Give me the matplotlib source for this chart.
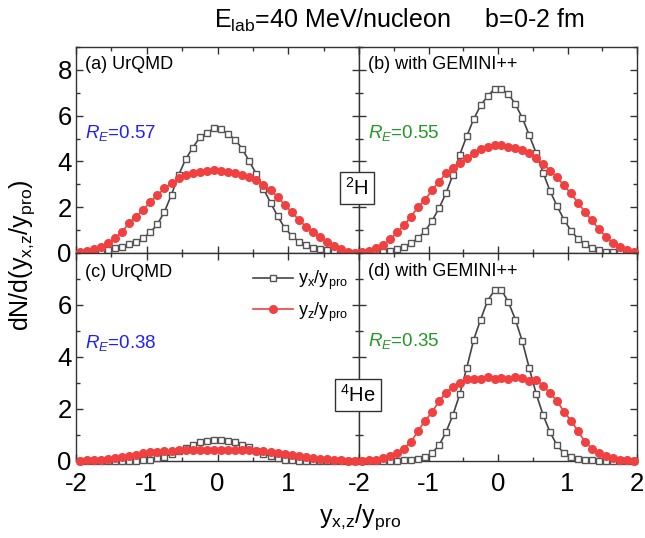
import matplotlib
matplotlib.use('Agg')
import matplotlib.pyplot as plt
import numpy as np
from matplotlib.ticker import MultipleLocator

plt.rcParams['font.family'] = ['Liberation Sans', 'DejaVu Sans']
plt.rcParams['mathtext.fontset'] = 'custom'
plt.rcParams['mathtext.rm'] = 'Liberation Sans'
plt.rcParams['mathtext.it'] = 'Liberation Sans:italic'
plt.rcParams['mathtext.default'] = 'regular'
plt.rcParams['axes.unicode_minus'] = False

# bin centres of y/y_pro
x = np.round(np.linspace(-1.95, 1.95, 40), 2)

# (a) UrQMD, 2H
a_x = [0.0, 0.0, 0.02, 0.06, 0.13, 0.2, 0.28, 0.38, 0.5, 0.65,
       0.9, 1.25, 1.8, 2.55, 3.4, 4.1, 4.6, 5.05, 5.25, 5.45,
       5.4, 5.2, 4.95, 4.55, 4.0, 3.45, 2.8, 2.2, 1.6, 1.1,
       0.75, 0.5, 0.35, 0.22, 0.16, 0.12, 0.07, 0.03, 0.01, 0.0]
a_z = [0.03, 0.09, 0.16, 0.28, 0.42, 0.64, 0.93, 1.3, 1.59, 1.88,
       2.24, 2.53, 2.82, 3.04, 3.26, 3.4, 3.5, 3.55, 3.59, 3.62,
       3.58, 3.52, 3.48, 3.42, 3.32, 3.18, 2.98, 2.75, 2.45, 2.1,
       1.78, 1.45, 1.15, 0.92, 0.7, 0.5, 0.3, 0.16, 0.06, 0.02]
# (b) with GEMINI++, 2H
b_x = [0.0, 0.01, 0.03, 0.06, 0.1, 0.17, 0.28, 0.42, 0.65, 0.95,
       1.4, 1.95, 2.6, 3.4, 4.3, 5.1, 5.85, 6.45, 6.85, 7.18,
       7.16, 6.95, 6.5, 5.9, 5.15, 4.35, 3.5, 2.7, 2.05, 1.45,
       0.98, 0.62, 0.38, 0.22, 0.12, 0.06, 0.03, 0.01, 0.0, 0.0]
b_z = [0.03, 0.1, 0.2, 0.35, 0.6, 0.9, 1.22, 1.59, 2.02, 2.31,
       2.75, 3.11, 3.48, 3.7, 3.92, 4.13, 4.35, 4.53, 4.64, 4.72,
       4.72, 4.65, 4.6, 4.5, 4.35, 4.15, 3.9, 3.6, 3.3, 2.95,
       2.6, 2.2, 1.8, 1.42, 1.05, 0.72, 0.45, 0.25, 0.12, 0.04]
# (c) UrQMD, 4He
c_x = [0.0, 0.0, 0.0, 0.0, 0.0, 0.0, 0.0, 0.0, 0.01, 0.02,
       0.05, 0.1, 0.17, 0.27, 0.38, 0.5, 0.62, 0.72, 0.78, 0.8,
       0.8, 0.77, 0.72, 0.63, 0.52, 0.4, 0.28, 0.18, 0.1, 0.05,
       0.02, 0.01, 0.0, 0.0, 0.0, 0.0, 0.0, 0.0, 0.0, 0.0]
c_z = [0.01, 0.02, 0.03, 0.05, 0.08, 0.11, 0.15, 0.2, 0.25, 0.29,
       0.33, 0.36, 0.38, 0.4, 0.41, 0.42, 0.43, 0.43, 0.43, 0.42,
       0.43, 0.43, 0.43, 0.42, 0.41, 0.4, 0.38, 0.35, 0.32, 0.28,
       0.24, 0.2, 0.16, 0.12, 0.09, 0.06, 0.04, 0.02, 0.01, 0.01]
# (d) with GEMINI++, 4He
d_x = [0.0, 0.0, 0.0, 0.0, 0.0, 0.01, 0.02, 0.04, 0.08, 0.15,
       0.3, 0.6, 1.1, 1.76, 2.57, 3.58, 4.66, 5.44, 6.17, 6.56,
       6.58, 6.11, 5.44, 4.6, 3.57, 2.58, 1.76, 1.1, 0.6, 0.3,
       0.15, 0.08, 0.04, 0.02, 0.01, 0.0, 0.0, 0.0, 0.0, 0.0]
d_z = [0.01, 0.02, 0.05, 0.1, 0.18, 0.3, 0.48, 0.75, 1.15, 1.55,
       1.87, 2.3, 2.62, 2.86, 3.0, 3.14, 3.17, 3.17, 3.23, 3.14,
       3.2, 3.17, 3.23, 3.2, 3.07, 3.12, 2.88, 2.62, 2.3, 1.9,
       1.55, 1.15, 0.75, 0.48, 0.3, 0.18, 0.1, 0.05, 0.02, 0.01]

panel_names = ['(a) UrQMD', '(b) with GEMINI++', '(c) UrQMD', '(d) with GEMINI++']
re_values = ['0.57', '0.55', '0.38', '0.35']
re_colors = ['#2020ff', '#229922', '#2020ff', '#229922']

gray = '#444444'
red = '#f04040'

W, H = 645, 538
fig = plt.figure(figsize=(W / 100, H / 100), dpi=100)

xl, xm, xr = 76 / W, 359 / W, 637 / W
yt, ym, yb = 1 - 47 / H, 1 - 253 / H, 1 - 461 / H
axes = [fig.add_axes([xl, ym, xm - xl, yt - ym]),
        fig.add_axes([xm, ym, xr - xm, yt - ym]),
        fig.add_axes([xl, yb, xm - xl, ym - yb]),
        fig.add_axes([xm, yb, xr - xm, ym - yb])]

series = [(a_x, a_z), (b_x, b_z), (c_x, c_z), (d_x, d_z)]
re_pos = [0.583, 0.583, 0.567, 0.577]
lab_pos = [0.913, 0.913, 0.904, 0.913]

for i, ax in enumerate(axes):
    sx, sz = series[i]
    ax.plot(x, sx, '-s', color=gray, lw=1.2, ms=5, mfc='white',
            mec='#555555', mew=1.0, clip_on=False, zorder=3,
            label=r'y$_{x}$/y$_{pro}$')
    ax.plot(x, sz, '-o', color=red, lw=1.2, ms=5.5, mfc=red,
            mec=red, clip_on=False, zorder=4,
            label=r'y$_{z}$/y$_{pro}$')
    ax.set_xlim(-2, 2)
    if i < 2:
        ax.set_ylim(0, 9)
        ax.set_yticks([0, 2, 4, 6, 8])
    else:
        ax.set_ylim(0, 8)
        ax.set_yticks([0, 2, 4, 6])
    ax.yaxis.set_minor_locator(MultipleLocator(1))
    ax.set_xticks([-2, -1, 0, 1, 2])
    ax.xaxis.set_minor_locator(MultipleLocator(0.5))
    ax.tick_params(which='both', direction='in', top=True, right=True,
                   color='#333333', labelsize=18.5, width=1)
    ax.tick_params(which='major', length=5)
    ax.tick_params(which='minor', length=3)
    ax.tick_params(axis='x', pad=8)
    ax.tick_params(axis='y', pad=3)
    for s in ax.spines.values():
        s.set_color('#333333')
        s.set_linewidth(1)
    if i % 2 == 1:
        ax.set_yticklabels([])
    if i < 2:
        ax.set_xticklabels([])
    if i == 2:
        ax.set_xticklabels(['-2', '-1', '0', '1', ''])
    ax.text(0.033, lab_pos[i], panel_names[i], transform=ax.transAxes,
            fontsize=13, va='center', ha='left')
    ax.text(0.033, re_pos[i], r'$\mathit{R}_{\mathit{E}}$=' + re_values[i],
            transform=ax.transAxes, fontsize=13.5, va='center', ha='left',
            color=re_colors[i])
    if i == 2:
        ax.legend(loc='upper right', bbox_to_anchor=(1.0, 0.975), frameon=False,
                  fontsize=13, handlelength=2.2, handletextpad=0.3,
                  labelspacing=0.45, borderaxespad=0.2)

box = dict(boxstyle='square,pad=0.25', fc='white', ec='#333333', lw=1)
fig.text(357 / W, 1 - 188 / H, r'$^{2}$H', fontsize=14.5, ha='center',
         va='center', bbox=box, zorder=10)
fig.text(358 / W, 1 - 395 / H, r'$^{4}$He', fontsize=14.5, ha='center',
         va='center', bbox=box, zorder=10)

fig.text(399 / W, 1 - 20 / H, r'E$_{lab}$=40 MeV/nucleon     b=0-2 fm',
         fontsize=18, ha='center', va='center')
fig.text(22 / W, 1 - 255 / H, r'dN/d(y$_{x{,}z}$/y$_{pro}$)', fontsize=18,
         rotation=90, ha='center', va='center')
fig.text(360 / W, 1 - 517 / H, r'y$_{x{,}z}$/y$_{pro}$', fontsize=18,
         ha='center', va='center')

fig.savefig('out.png', dpi=100)
